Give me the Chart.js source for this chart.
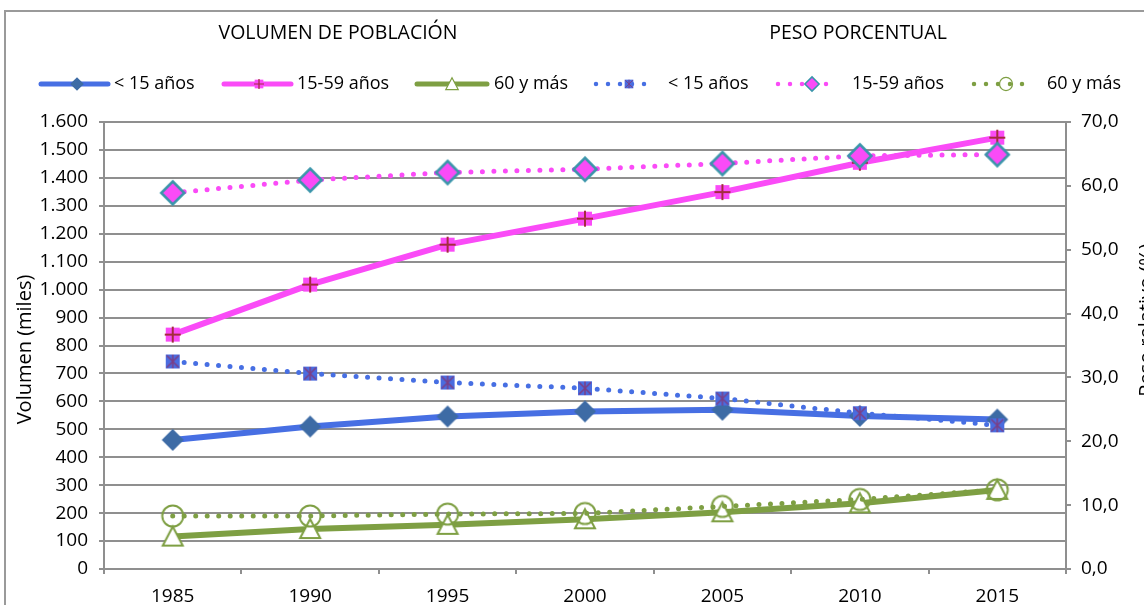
<!DOCTYPE html>
<html>
<head>
<meta charset="utf-8">
<script src="https://cdn.jsdelivr.net/npm/chart.js@4.4.1/dist/chart.umd.min.js"></script>
<style>
  html, body { margin: 0; padding: 0; background: #fff; }
  #wrap { position: relative; width: 1144px; height: 605px; overflow: hidden; }
</style>
</head>
<body>
<div id="wrap"><canvas id="chart" width="1144" height="605"></canvas></div>
<script>
// categories
const years = ["1985", "1990", "1995", "2000", "2005", "2010", "2015"];

// volumen de población (miles) - eje izquierdo
const volMenores15 = [462, 510, 546, 564, 570, 548, 535];
const vol15a59 = [839, 1018, 1161, 1254, 1349, 1454, 1544];
const vol60ymas = [116, 143, 158, 178, 203, 235, 283];

// peso porcentual (%) - eje derecho
const pesoMenores15 = [32.5, 30.6, 29.2, 28.3, 26.7, 24.4, 22.5];
const peso15a59 = [58.9, 60.9, 62.1, 62.6, 63.5, 64.7, 64.9];
const peso60ymas = [8.3, 8.3, 8.6, 8.7, 9.8, 10.9, 12.4];

const groupNames = ["< 15 años", "15-59 años", "60 y más"];
const panelTitles = ["VOLUMEN DE POBLACIÓN", "PESO PORCENTUAL"];
const axisTitles = ["Volumen (miles)", "Peso relativo (%)"];
const leftRange = [0, 1600, 100];
const rightRange = [0, 70, 10];

const BLUE = "#476FE3";
const PINK = "#FA4BF7";
const OLIVE = "#7E9F43";
const GRID = "#8f8f8f";
const FONT = "'Open Sans', sans-serif";

// marker shapes, drawn around (x, y), k = scale
function drawMarker(ctx, kind, x, y, k) {
  ctx.save();
  ctx.translate(x, y);
  ctx.scale(k, k);
  ctx.beginPath();
  if (kind === "diamond") {
    ctx.moveTo(0, -11); ctx.lineTo(11, 0); ctx.lineTo(0, 11); ctx.lineTo(-11, 0);
    ctx.closePath();
    ctx.fillStyle = "#3D6BA5"; ctx.fill();
  } else if (kind === "sqplus") {
    ctx.fillStyle = PINK; ctx.fillRect(-7, -7, 14, 14);
    ctx.strokeStyle = "#A42B3E"; ctx.lineWidth = 2;
    ctx.moveTo(-8, 0); ctx.lineTo(8, 0); ctx.moveTo(0, -8); ctx.lineTo(0, 8);
    ctx.stroke();
  } else if (kind === "tri") {
    ctx.moveTo(0, -10); ctx.lineTo(10, 9); ctx.lineTo(-10, 9); ctx.closePath();
    ctx.fillStyle = "#fff"; ctx.fill();
    ctx.strokeStyle = OLIVE; ctx.lineWidth = 2; ctx.stroke();
  } else if (kind === "sqstar") {
    ctx.fillStyle = "#4A6CE0"; ctx.fillRect(-7, -7, 14, 14);
    ctx.strokeStyle = "#7B3F86"; ctx.lineWidth = 1.5;
    ctx.moveTo(-6, -6); ctx.lineTo(6, 6); ctx.moveTo(6, -6); ctx.lineTo(-6, 6);
    ctx.moveTo(0, -7); ctx.lineTo(0, 7);
    ctx.stroke();
  } else if (kind === "diamondTeal") {
    ctx.moveTo(0, -11.5); ctx.lineTo(11.5, 0); ctx.lineTo(0, 11.5); ctx.lineTo(-11.5, 0);
    ctx.closePath();
    ctx.fillStyle = PINK; ctx.fill();
    ctx.strokeStyle = "#3A95AA"; ctx.lineWidth = 2.5; ctx.stroke();
  } else if (kind === "circ") {
    ctx.arc(0, 0, 10.5, 0, Math.PI * 2);
    ctx.strokeStyle = OLIVE; ctx.lineWidth = 2; ctx.stroke();
  }
  ctx.restore();
}

function makeMarker(kind) {
  const c = document.createElement("canvas");
  c.width = 30; c.height = 30;
  drawMarker(c.getContext("2d"), kind, 15, 15, 1);
  return c;
}

function solid(label, data, color, marker) {
  return {
    label, data, yAxisID: "y", order: 1,
    borderColor: color, backgroundColor: color, borderWidth: 6,
    borderJoinStyle: "round", borderCapStyle: "round", tension: 0,
    pointStyle: makeMarker(marker), pointRadius: 10
  };
}

function dotted(label, data, color, marker) {
  return {
    label, data, yAxisID: "y1", order: 0,
    borderColor: color, backgroundColor: color, borderWidth: 5,
    borderDash: [0, 11.5], borderCapStyle: "round", tension: 0,
    pointStyle: makeMarker(marker), pointRadius: 10
  };
}

const legendItems = [
  { kind: "diamond", color: BLUE, dash: false, x1: 41, x2: 108, mx: 77, tx: 114, text: groupNames[0] },
  { kind: "sqplus", color: PINK, dash: false, x1: 224, x2: 291, mx: 259, tx: 297, text: groupNames[1] },
  { kind: "tri", color: OLIVE, dash: false, x1: 417, x2: 487, mx: 452, tx: 494, text: groupNames[2] },
  { kind: "sqstar", color: BLUE, dash: true, x1: 596, x2: 656, mx: 629, tx: 668, text: groupNames[0] },
  { kind: "diamondTeal", color: PINK, dash: true, x1: 778, x2: 838, mx: 812, tx: 852, text: groupNames[1] },
  { kind: "circ", color: OLIVE, dash: true, x1: 974, x2: 1034, mx: 1006, tx: 1047, text: groupNames[2] }
];

const decor = {
  id: "decor",
  afterDraw(chart) {
    const ctx = chart.ctx;
    const area = chart.chartArea;
    ctx.save();
    // outer frame (top and left edge)
    ctx.strokeStyle = "#9a9a9a";
    ctx.lineWidth = 2;
    ctx.beginPath();
    ctx.moveTo(5, 605); ctx.lineTo(5, 11); ctx.lineTo(1144, 11);
    ctx.stroke();

    // panel titles
    ctx.fillStyle = "#000";
    ctx.font = "19.5px " + FONT;
    ctx.textAlign = "center";
    ctx.textBaseline = "middle";
    ctx.fillText(panelTitles[0], 338, 33);
    ctx.fillText(panelTitles[1], 858, 33);

    // legend
    const ly = 84;
    legendItems.forEach(it => {
      ctx.save();
      ctx.strokeStyle = it.color;
      ctx.lineCap = "round";
      ctx.lineWidth = it.dash ? 4.5 : 5;
      if (it.dash) ctx.setLineDash([0, 12]);
      ctx.beginPath();
      ctx.moveTo(it.x1, ly); ctx.lineTo(it.x2, ly);
      ctx.stroke();
      ctx.restore();
      drawMarker(ctx, it.kind, it.mx, ly, 0.62);
      ctx.fillStyle = "#000";
      ctx.font = "18px " + FONT;
      ctx.textAlign = "left";
      ctx.textBaseline = "middle";
      ctx.fillText(it.text, it.tx, ly);
    });

    // axis titles (both read bottom to top)
    const cy = (area.top + area.bottom) / 2;
    ctx.font = "20px " + FONT;
    ctx.textAlign = "center";
    ctx.textBaseline = "middle";
    ctx.save();
    ctx.translate(25, cy + 4);
    ctx.rotate(-Math.PI / 2);
    ctx.fillText(axisTitles[0], 0, 0);
    ctx.restore();
    ctx.save();
    ctx.translate(1147, 320);
    ctx.rotate(-Math.PI / 2);
    ctx.fillText(axisTitles[1], 0, 0);
    ctx.restore();
    ctx.restore();
  }
};

function thousands(v) {
  if (v >= 1000) return Math.floor(v / 1000) + "." + String(v % 1000).padStart(3, "0");
  return String(v);
}

new Chart(document.getElementById("chart"), {
  type: "line",
  data: {
    labels: years,
    datasets: [
      solid(groupNames[0], volMenores15, BLUE, "diamond"),
      solid(groupNames[1], vol15a59, PINK, "sqplus"),
      solid(groupNames[2], vol60ymas, OLIVE, "tri"),
      dotted(groupNames[0], pesoMenores15, BLUE, "sqstar"),
      dotted(groupNames[1], peso15a59, PINK, "diamondTeal"),
      dotted(groupNames[2], peso60ymas, OLIVE, "circ")
    ]
  },
  options: {
    responsive: false,
    devicePixelRatio: 1,
    animation: false,
    layout: { padding: { top: 122, left: 0, right: 0, bottom: 0 } },
    plugins: {
      legend: { display: false },
      tooltip: { enabled: false }
    },
    scales: {
      x: {
        offset: true,
        grid: { offset: true, drawOnChartArea: false, tickLength: 5, color: GRID, lineWidth: 2 },
        border: { color: GRID, width: 2 },
        ticks: { color: "#000", font: { family: FONT, size: 19 }, padding: 11, maxRotation: 0 },
        afterFit(s) { s.height = 36; }
      },
      y: {
        position: "left",
        min: leftRange[0], max: leftRange[1],
        grid: { color: GRID, lineWidth: 2, tickLength: 5 },
        border: { color: GRID, width: 2 },
        ticks: { stepSize: leftRange[2], color: "#000", font: { family: FONT, size: 19 }, padding: 11, callback: v => thousands(v) },
        afterFit(s) { s.width = 104; }
      },
      y1: {
        position: "right",
        min: rightRange[0], max: rightRange[1],
        grid: { drawOnChartArea: false, color: GRID, lineWidth: 2, tickLength: 5 },
        border: { color: GRID, width: 2 },
        ticks: { stepSize: rightRange[2], color: "#000", font: { family: FONT, size: 19 }, padding: 10, callback: v => v.toFixed(1).replace(".", ",") },
        afterFit(s) { s.width = 78; }
      }
    }
  },
  plugins: [decor]
});
</script>
</body>
</html>
